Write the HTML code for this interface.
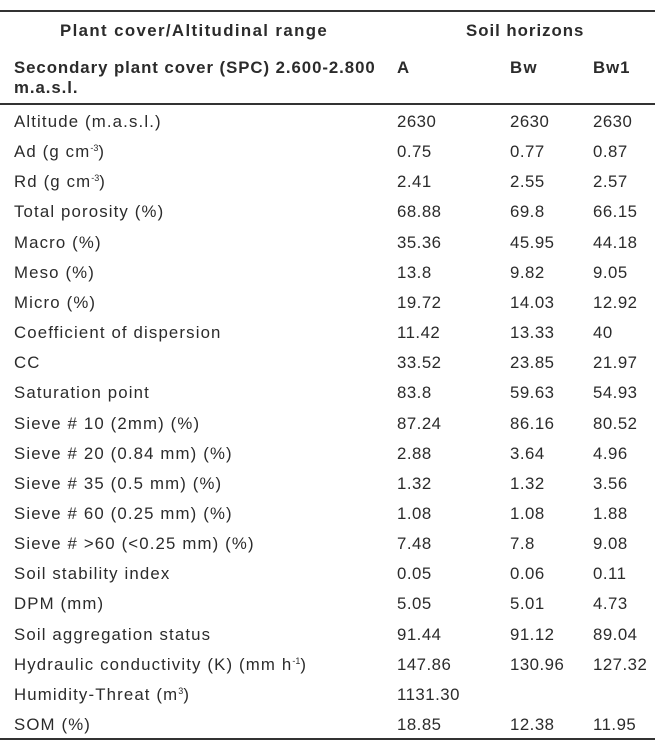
<!DOCTYPE html>
<html><head><meta charset="utf-8"><style>
body{margin:0;width:655px;height:749px;background:#fff;font-family:"Liberation Sans",sans-serif;color:#2b2b2b;position:relative;overflow:hidden}
.l{position:absolute;left:0;width:655px;height:1.5px;background:#333}
.t{position:absolute;font-size:16.8px;letter-spacing:1.15px;white-space:nowrap;line-height:20px}
.v{letter-spacing:0.5px}
.b{font-weight:bold;font-size:16.8px;letter-spacing:1.4px}
sup{font-size:9px;vertical-align:6px;line-height:0;letter-spacing:0}
</style></head><body>
<div class="l" style="top:10px"></div>
<div class="l" style="top:103px"></div>
<div class="l" style="top:738px"></div>
<div class="t b" style="left:60px;top:21px">Plant cover/Altitudinal range</div>
<div class="t b" style="left:466px;top:21px;letter-spacing:1px">Soil horizons</div>
<div class="t b" style="left:14px;top:58px;letter-spacing:0.95px">Secondary plant cover (SPC) 2.600-2.800<br>m.a.s.l.</div>
<div class="t b" style="left:397px;top:58px">A</div>
<div class="t b" style="left:510px;top:58px">Bw</div>
<div class="t b" style="left:593px;top:58px;letter-spacing:1px">Bw1</div>
<div id="rows"></div>
<script>
const labels=["Altitude (m.a.s.l.)","Ad (g cm<sup>-3</sup>)","Rd (g cm<sup>-3</sup>)","Total porosity (%)","Macro (%)","Meso (%)","Micro (%)","Coefficient of dispersion","CC","Saturation point","Sieve # 10 (2mm) (%)","Sieve # 20 (0.84 mm) (%)","Sieve # 35 (0.5 mm) (%)","Sieve # 60 (0.25 mm) (%)","Sieve # &gt;60 (&lt;0.25 mm) (%)","Soil stability index","DPM (mm)","Soil aggregation status","Hydraulic conductivity (K) (mm h<sup>-1</sup>)","Humidity-Threat (m<sup>3</sup>)","SOM (%)"];
const colA=["2630","0.75","2.41","68.88","35.36","13.8","19.72","11.42","33.52","83.8","87.24","2.88","1.32","1.08","7.48","0.05","5.05","91.44","147.86","1131.30","18.85"];
const colBw=["2630","0.77","2.55","69.8","45.95","9.82","14.03","13.33","23.85","59.63","86.16","3.64","1.32","1.08","7.8","0.06","5.01","91.12","130.96","","12.38"];
const colBw1=["2630","0.87","2.57","66.15","44.18","9.05","12.92","40","21.97","54.93","80.52","4.96","3.56","1.88","9.08","0.11","4.73","89.04","127.32","","11.95"];
const root=document.getElementById('rows');
labels.forEach((lb,i)=>{
  const y=112+i*30.15;
  [[lb,14,'row-label'],[colA[i],397,'value-a'],[colBw[i],510,'value-bw'],[colBw1[i],593,'value-bw1']].forEach(([txt,x,nm])=>{
    const d=document.createElement('div');
    d.className=x===14?'t':'t v';
    d.style.left=x+'px';d.style.top=y+'px';
    d.innerHTML=txt;
    
    
    root.appendChild(d);
  });
});
</script>
</body></html>
